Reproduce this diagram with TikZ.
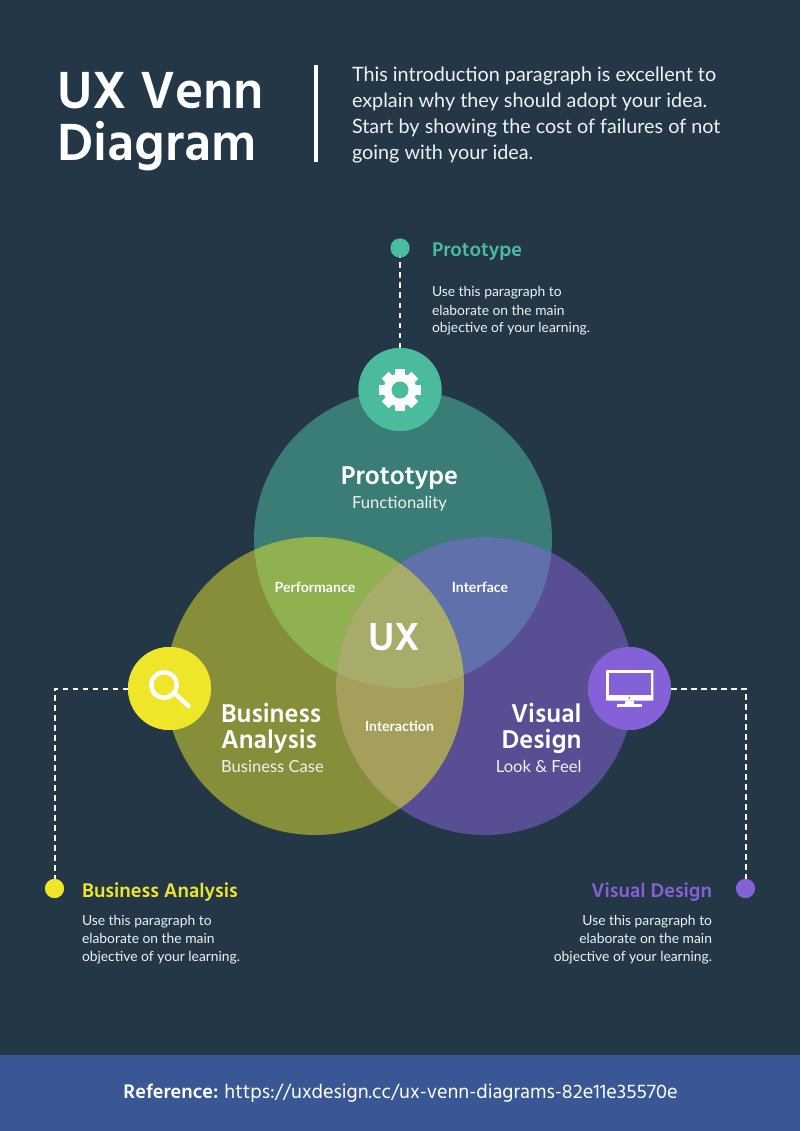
\documentclass[tikz,border=0pt]{standalone}
\usepackage{fontspec}
\setmainfont{Lato}
\newfontfamily\hd{Hind Siliguri}
\usetikzlibrary{calc}
\definecolor{bgc}{HTML}{233746}
\definecolor{foot}{HTML}{385794}
\definecolor{teal}{HTML}{4ABC9D}
\definecolor{yel}{HTML}{EFE629}
\definecolor{vio}{HTML}{8461D6}
\definecolor{cT}{HTML}{3A7C76}
\definecolor{cL}{HTML}{878E39}
\definecolor{cR}{HTML}{574E93}
\definecolor{cTL}{HTML}{8FB14F}
\definecolor{cTR}{HTML}{5F70AB}
\definecolor{cLR}{HTML}{A69F5C}
\definecolor{cC}{HTML}{A8AC6A}
\definecolor{para}{HTML}{EEF2F3}
\tikzset{
  txt/.style={inner sep=0pt,outer sep=0pt,text=white},
  small/.style={txt,text=para,font=\fontsize{13.85}{18}\selectfont},
  sidehead/.style={txt,font=\hd\fontsize{20.3}{20}\selectfont\bfseries},
  vennhead/.style={txt,font=\hd\fontsize{26.4}{26}\selectfont\bfseries},
  vennsub/.style={txt,text=para,font=\fontsize{16.6}{16}\selectfont},
  inner/.style={txt,font=\fontsize{14.1}{16}\selectfont\bfseries},
  titletxt/.style={txt,font=\hd\fontsize{53.6}{53}\selectfont\bfseries},
  dashline/.style={draw=white,line width=2pt,dash pattern=on 5.5pt off 4.5pt},
  dot/.style={circle,minimum size=19pt,inner sep=0pt,outer sep=0pt},
  badge/.style={circle,minimum size=83pt,inner sep=0pt,outer sep=0pt},
}
\begin{document}
\begin{tikzpicture}[x=1pt,y=-1pt]
\useasboundingbox (0,0) rectangle (800,1131);
\fill[bgc] (0,0) rectangle (800,1131);
\fill[foot] (0,1055) rectangle (800,1131);
% venn
\def\T{(403,539) circle (149)}
\def\L{(315,686) circle (149)}
\def\R{(485,686) circle (149)}
\fill[cT] \T; \fill[cL] \L; \fill[cR] \R;
\begin{scope}\clip \T; \fill[cTL] \L; \fill[cTR] \R; \end{scope}
\begin{scope}\clip \L; \fill[cLR] \R; \end{scope}
\begin{scope}\clip \T; \clip \L; \fill[cC] \R; \end{scope}
% header
\node[titletxt,anchor=base west] (t1) at (57.5,108.5) {UX Venn};
\node[titletxt,anchor=base west] (t2) at (57.5,160.5) {Diagram};
\fill[white] (314,65) rectangle (318,162);
\foreach \n/\y/\s in {a/81.5/This introduction paragraph is excellent to,b/107.5/explain why they should adopt your idea.,c/133.5/Start by showing the cost of failures of not,d/159.5/going with your idea.}
  \node[txt,anchor=base west,text=para,font=\fontsize{19.8}{26}\selectfont] (p\n) at (352,\y) {\s};
% connectors
\node[dot,fill=teal] (dT) at (400,248) {};
\node[dot,fill=yel] (dL) at (54.5,888.5) {};
\node[dot,fill=vio] (dR) at (745.5,888.5) {};
\node[badge,fill=teal] (bT) at (400,389.5) {};
\node[badge,fill=yel] (bL) at (169.5,688.5) {};
\node[badge,fill=vio] (bR) at (629.5,688.5) {};
\coordinate (cnL) at (54.5,688.5);
\coordinate (cnR) at (745.5,688.5);
\draw[dashline] (bT) -- (dT);
\draw[dashline] (bL) -- (cnL) -- (dL);
\draw[dashline] (bR) -- (cnR) -- (dR);
\node[badge,fill=teal] at (bT) {};
\node[badge,fill=yel] at (bL) {};
\node[badge,fill=vio] at (bR) {};
\node[dot,fill=teal] at (dT) {};
\node[dot,fill=yel] at (dL) {};
\node[dot,fill=vio] at (dR) {};
% gear
\begin{scope}[shift={(400,390)}]
\fill[white] (0,0) circle (16.5);
\foreach \a in {0,45,...,315}
  \fill[white,rotate=\a] (-4.8,-21) rectangle (4.8,-10);
\fill[teal] (0,0) circle (8.5);
\end{scope}
% magnifier
\begin{scope}[shift={(169.5,688.5)}]
\draw[white,line width=4.5pt] (-5.5,-3.5) circle (12.8);
\draw[white,line width=4.5pt,line cap=round] (7,6.5) -- (19,17.5);
\end{scope}
% monitor
\begin{scope}[shift={(629.5,688.5)}]
\fill[white,rounded corners=0.8pt] (-23.5,-18.5) rectangle (23.8,12.2);
\fill[vio] (-20.5,-15.8) rectangle (21.2,6.5);
\fill[vio] (-0.2,9.4) circle (1);
\fill[white] (-4,12) -- (4,12) -- (4.8,16) -- (-4.8,16) -- cycle;
\fill[white] (-12.5,15.8) rectangle (12.5,18);
\end{scope}
% side labels
\node[sidehead,anchor=base west,text=teal] (lT) at (432,257) {Prototype};
\node[small,anchor=base west] (lT1) at (432,297) {Use this paragraph to};
\node[small,anchor=base west] (lT2) at (432,315) {elaborate on the main};
\node[small,anchor=base west] (lT3) at (432,332.5) {objective of your learning.};
\node[sidehead,anchor=base west,text=yel] (lL) at (82,897) {Business Analysis};
\node[small,anchor=base west] (lL1) at (82,925) {Use this paragraph to};
\node[small,anchor=base west] (lL2) at (82,943) {elaborate on the main};
\node[small,anchor=base west] (lL3) at (82,961) {objective of your learning.};
\node[sidehead,anchor=base east,text=vio] (lR) at (712,897) {Visual Design};
\node[small,anchor=base east] (lR1) at (712,925) {Use this paragraph to};
\node[small,anchor=base east] (lR2) at (712,943) {elaborate on the main};
\node[small,anchor=base east] (lR3) at (712,961) {objective of your learning.};
% venn labels
\node[vennhead,anchor=base] (vT) at (399.5,484) {Prototype};
\node[vennsub,anchor=base] (vT2) at (399.5,508) {Functionality};
\node[vennhead,anchor=base west] (vL1) at (221,722) {Business};
\node[vennhead,anchor=base west] (vL2) at (221,748) {Analysis};
\node[vennsub,anchor=base west] (vL3) at (221,772) {Business Case};
\node[vennhead,anchor=base east] (vR1) at (581.5,722) {Visual};
\node[vennhead,anchor=base east] (vR2) at (581.5,748) {Design};
\node[vennsub,anchor=base east] (vR3) at (581.5,772) {Look \& Feel};
\node[inner,anchor=base] (iP) at (315,592) {Performance};
\node[inner,anchor=base] (iI) at (480,592) {Interface};
\node[inner,anchor=base] (iA) at (399.5,731) {Interaction};
\node[txt,anchor=base,font=\hd\fontsize{40}{40}\selectfont\bfseries] (ux) at (394.5,650) {UX};
% footer
\node[txt,anchor=base,font=\hd\fontsize{20.2}{20}\selectfont] (ref) at (400.5,1098) {\textbf{Reference:} https://uxdesign.cc/ux-venn-diagrams-82e11e35570e};
\end{tikzpicture}
\end{document}
